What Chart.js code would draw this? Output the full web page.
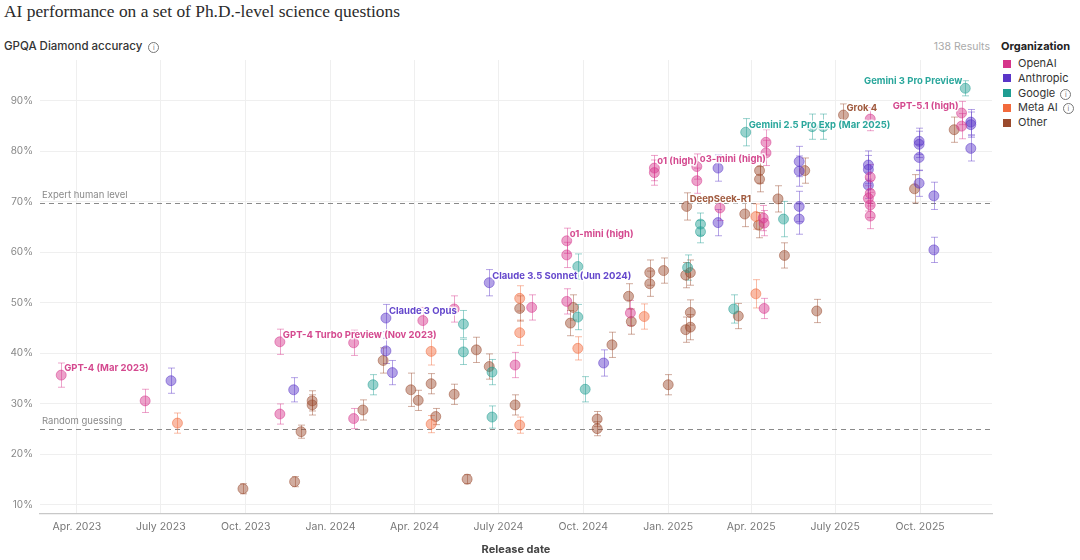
<!DOCTYPE html>
<html>
<head>
<meta charset="utf-8">
<script src="https://cdn.jsdelivr.net/npm/chart.js@4.4.1/dist/chart.umd.min.js"></script>
<style>
  body { margin: 0; width: 1080px; height: 560px; background: #fff; position: relative; overflow: hidden; font-family: Inter, 'Noto Sans', sans-serif; }
  #chart { position: absolute; left: 0; top: 0; }
  .title { position: absolute; left: 4px; top: 1px; font-family: 'Liberation Serif', 'DejaVu Serif', serif; font-size: 17.4px; color: #2b2b2b; white-space: nowrap; }
  .subtitle { position: absolute; left: 4px; top: 39px; font-size: 11.5px; font-weight: 500; color: #333; white-space: nowrap; }
  .info { display: inline-block; width: 9px; height: 9px; border: 1px solid #777; border-radius: 50%; font-size: 7px; line-height: 9px; text-align: center; color: #777; vertical-align: 0px; margin-left: 6px; font-weight: 400; }
  .results { position: absolute; right: 90px; top: 40px; font-size: 10.5px; color: #aaa; }
  .legend { position: absolute; left: 1001px; top: 39px; font-size: 11px; color: #333; }
  .legend h4 { margin: 0 0 3px 0; font-size: 11px; font-weight: 700; color: #222; }
  .legend .item { height: 14.75px; line-height: 14.75px; white-space: nowrap; }
  .legend .sw { display: inline-block; width: 8px; height: 8px; margin: 0 7px 0 2px; vertical-align: -0.5px; }
</style>
</head>
<body>
<div class="title">AI performance on a set of Ph.D.-level science questions</div>
<div class="subtitle">GPQA Diamond accuracy<span class="info">i</span></div>
<div class="results">138 Results</div>
<div class="legend" id="legend"><h4>Organization</h4></div>
<canvas id="chart" width="1080" height="560"></canvas>
<script>
// organizations and colours
const orgs = ['OpenAI', 'Anthropic', 'Google', 'Meta AI', 'Other'];
const orgColors = ['#d6358b', '#5a35c8', '#1f9d92', '#f26a3c', '#9a4a2d'];
const orgTextColors = ['#d4498f', '#6447cc', '#2aa79c', '#e0703f', '#a05a3e'];
const orgInfo = [false, false, true, true, false];

// OpenAI
const openaiDates = ['2023-03-15', '2023-06-14', '2023-11-07', '2023-11-07', '2024-01-26', '2024-01-26', '2024-04-10', '2024-05-14',
  '2024-07-19', '2024-08-06', '2024-09-13', '2024-09-13', '2024-09-13', '2024-11-21', '2024-12-17', '2024-12-17',
  '2025-02-01', '2025-02-01', '2025-02-26', '2025-04-17', '2025-04-17', '2025-04-14', '2025-04-15', '2025-04-15',
  '2025-08-08', '2025-08-08', '2025-08-08', '2025-08-06', '2025-08-08', '2025-08-08', '2025-11-15', '2025-11-15'];
const openaiScores = [35.7, 30.6, 42.3, 28.0, 42.1, 27.1, 46.5, 48.8,
  37.7, 49.1, 62.3, 59.5, 50.3, 48.0, 76.7, 75.8,
  77.0, 74.2, 68.8, 81.8, 79.7, 66.8, 65.8, 48.9,
  86.4, 74.9, 71.7, 70.7, 69.4, 67.2, 87.6, 85.0];
const openaiErr = [2.4, 2.3, 2.5, 2.0, 2.5, 2.0, 2.6, 2.6,
  2.5, 2.5, 2.5, 2.5, 2.5, 2.5, 2.5, 2.5,
  2.5, 2.5, 2.5, 2.5, 2.5, 2.5, 2.5, 2.0,
  2.3, 2.5, 2.5, 2.5, 2.5, 2.5, 2.3, 2.5];

// Anthropic
const anthropicDates = ['2023-07-12', '2023-11-22', '2024-03-01', '2024-03-01', '2024-03-08', '2024-06-21', '2024-10-23', '2025-02-24',
  '2025-02-24', '2025-05-23', '2025-05-23', '2025-05-23', '2025-05-23', '2025-08-06', '2025-08-06', '2025-08-06',
  '2025-09-30', '2025-09-30', '2025-09-30', '2025-09-30', '2025-10-16', '2025-10-16', '2025-11-25', '2025-11-25', '2025-11-25'];
const anthropicScores = [34.6, 32.8, 47.0, 40.5, 36.2, 54.0, 38.1, 76.7,
  65.9, 78.0, 76.1, 69.1, 66.6, 77.3, 76.4, 73.3,
  82.0, 81.4, 78.8, 73.7, 71.2, 60.5, 85.8, 85.3, 80.6];
const anthropicErr = [2.5, 2.4, 2.7, 2.5, 2.4, 2.6, 2.6, 2.6,
  2.6, 3.0, 3.0, 3.0, 3.0, 2.8, 2.8, 2.6,
  2.6, 2.6, 2.6, 2.6, 2.7, 2.5, 2.5, 2.5, 2.5];

// Google
const googleDates = ['2024-02-16', '2024-05-24', '2024-05-24', '2024-06-24', '2024-06-24', '2024-09-25', '2024-09-25', '2024-10-03',
  '2025-01-22', '2025-02-05', '2025-02-05', '2025-03-13', '2025-03-26', '2025-05-06', '2025-06-06', '2025-06-18', '2025-11-19'];
const googleScores = [33.8, 45.8, 40.3, 36.3, 27.4, 57.2, 47.2, 32.9,
  57.0, 65.6, 64.1, 48.8, 83.8, 66.6, 84.9, 84.9, 92.5];
const googleErr = [2.0, 2.7, 2.5, 2.5, 2.2, 2.5, 2.5, 2.5,
  2.5, 2.2, 2.2, 2.8, 2.7, 3.5, 2.5, 2.5, 1.5];

// Meta AI
const metaDates = ['2023-07-19', '2024-04-19', '2024-04-19', '2024-07-24', '2024-07-24', '2024-07-24', '2024-09-25', '2024-12-06',
  '2025-04-06', '2025-04-06'];
const metaScores = [26.2, 40.4, 26.0, 50.9, 44.1, 25.8, 41.0, 47.3, 67.1, 51.8];
const metaErr = [2.0, 2.7, 1.7, 2.5, 2.5, 1.6, 2.3, 2.5, 2.5, 2.8];

// Other
const otherDates = ['2023-09-28', '2023-11-23', '2023-11-30', '2023-12-12', '2023-12-12', '2024-02-05', '2024-02-27', '2024-03-28',
  '2024-04-05', '2024-04-19', '2024-04-24', '2024-05-14', '2024-05-28', '2024-06-07', '2024-06-21', '2024-07-19',
  '2024-07-24', '2024-09-20', '2024-09-17', '2024-10-16', '2024-10-16', '2024-11-01', '2024-11-19', '2024-11-22',
  '2024-12-12', '2024-12-12', '2024-12-27', '2025-01-01', '2025-01-20', '2025-01-25', '2025-01-25', '2025-01-20',
  '2025-01-25', '2025-01-21', '2025-03-18', '2025-03-25', '2025-04-10', '2025-04-10', '2025-04-09', '2025-04-30',
  '2025-05-07', '2025-05-29', '2025-06-11', '2025-07-10', '2025-09-25', '2025-11-07'];
const otherScores = [13.2, 14.6, 24.5, 30.6, 29.8, 28.8, 38.6, 32.8,
  30.7, 34.0, 27.5, 31.9, 15.1, 40.7, 37.4, 29.8,
  48.9, 49.1, 46.0, 27.0, 25.1, 41.7, 51.3, 46.3,
  56.0, 53.8, 56.4, 33.8, 55.5, 56.0, 48.1, 44.7,
  45.2, 69.1, 47.4, 67.6, 76.2, 74.5, 65.4, 70.6,
  59.4, 76.2, 48.4, 87.2, 72.6, 84.3];
const otherErr = [1.0, 1.0, 1.3, 2.0, 2.0, 2.0, 2.5, 3.3,
  2.0, 2.0, 1.6, 2.0, 0.9, 2.5, 2.5, 2.0,
  2.5, 2.5, 2.5, 1.5, 1.4, 2.5, 2.5, 2.5,
  2.5, 2.5, 2.5, 2.0, 2.5, 2.5, 2.5, 2.5,
  2.5, 2.7, 2.5, 2.5, 2.5, 2.5, 2.5, 2.6,
  2.5, 2.5, 2.3, 2.2, 2.8, 2.5];

// named models
const labelTexts = ['GPT-4 (Mar 2023)', 'GPT-4 Turbo Preview (Nov 2023)', 'Claude 3 Opus', 'Claude 3.5 Sonnet (Jun 2024)',
  'o1-mini (high)', 'o1 (high)', 'o3-mini (high)', 'DeepSeek-R1', 'Gemini 2.5 Pro Exp (Mar 2025)', 'Grok 4',
  'Gemini 3 Pro Preview', 'GPT-5.1 (high)'];
const labelOrgs = ['OpenAI', 'OpenAI', 'Anthropic', 'Anthropic', 'OpenAI', 'OpenAI', 'OpenAI', 'Other', 'Google', 'Other', 'Google', 'OpenAI'];
const labelDates = ['2023-03-15', '2023-11-07', '2024-03-01', '2024-06-21', '2024-09-13', '2024-12-17', '2025-02-01', '2025-01-21',
  '2025-03-26', '2025-07-10', '2025-11-19', '2025-11-15'];
const labelScores = [35.7, 42.3, 47.0, 54.0, 62.3, 76.7, 77.0, 69.1, 83.8, 87.2, 92.5, 87.6];
const labelSides = ['right', 'right', 'right', 'right', 'right', 'right', 'right', 'right', 'right', 'right', 'left', 'left'];

// reference lines
const refValues = [69.7, 25];
const refLabels = ['Expert human level', 'Random guessing'];

// axes
const tickDates = ['2023-04-01', '2023-07-01', '2023-10-01', '2024-01-01', '2024-04-01', '2024-07-01',
  '2024-10-01', '2025-01-01', '2025-04-01', '2025-07-01', '2025-10-01'];
const tickLabels = ['Apr. 2023', 'July 2023', 'Oct. 2023', 'Jan. 2024', 'Apr. 2024', 'July 2024',
  'Oct. 2024', 'Jan. 2025', 'Apr. 2025', 'July 2025', 'Oct. 2025'];
const yTicks = [10, 20, 30, 40, 50, 60, 70, 80, 90];

const day = s => Date.UTC(+s.slice(0, 4), +s.slice(5, 7) - 1, +s.slice(8, 10)) / 86400000;

function rgba(hex, a) {
  const n = parseInt(hex.slice(1), 16);
  return `rgba(${n >> 16},${(n >> 8) & 255},${n & 255},${a})`;
}

function points(dates, scores, errs) {
  return dates.map((d, i) => ({ x: day(d), y: scores[i], err: errs[i] }));
}

const series = [
  points(openaiDates, openaiScores, openaiErr),
  points(anthropicDates, anthropicScores, anthropicErr),
  points(googleDates, googleScores, googleErr),
  points(metaDates, metaScores, metaErr),
  points(otherDates, otherScores, otherErr)
];

// html legend
const legend = document.getElementById('legend');
orgs.forEach((o, i) => {
  const row = document.createElement('div');
  row.className = 'item';
  row.innerHTML = `<span class="sw" style="background:${orgColors[i]}"></span>${o}` +
    (orgInfo[i] ? '<span class="info" style="margin-left:5px">i</span>' : '');
  legend.appendChild(row);
});

const refLines = {
  id: 'refLines',
  beforeDatasetsDraw(chart) {
    const { ctx, chartArea, scales } = chart;
    ctx.save();
    refValues.forEach((v, i) => {
      const y = Math.round(scales.y.getPixelForValue(v)) + 0.5;
      ctx.strokeStyle = '#8a8a8a';
      ctx.lineWidth = 1.2;
      ctx.setLineDash([5, 4]);
      ctx.beginPath();
      ctx.moveTo(chartArea.left, y);
      ctx.lineTo(chartArea.right, y);
      ctx.stroke();
      ctx.setLineDash([]);
      ctx.fillStyle = '#8a8a8a';
      ctx.font = '9.5px Inter';
      ctx.textBaseline = 'middle';
      ctx.fillText(refLabels[i], chartArea.left + 2, y - 8);
    });
    ctx.restore();
  }
};

const errorBars = {
  id: 'errorBars',
  beforeDatasetsDraw(chart) {
    const { ctx, scales } = chart;
    chart.data.datasets.forEach((ds, k) => {
      ctx.save();
      ctx.strokeStyle = rgba(orgColors[k], 0.45);
      ctx.lineWidth = 1;
      ds.data.forEach(p => {
        const x = Math.round(scales.x.getPixelForValue(p.x)) + 0.5;
        const y1 = scales.y.getPixelForValue(p.y + p.err);
        const y2 = scales.y.getPixelForValue(p.y - p.err);
        ctx.beginPath();
        ctx.moveTo(x, y1); ctx.lineTo(x, y2);
        ctx.moveTo(x - 3.5, y1); ctx.lineTo(x + 3.5, y1);
        ctx.moveTo(x - 3.5, y2); ctx.lineTo(x + 3.5, y2);
        ctx.stroke();
      });
      ctx.restore();
    });
  }
};

const pointLabels = {
  id: 'pointLabels',
  afterDatasetsDraw(chart) {
    const { ctx, scales } = chart;
    ctx.save();
    ctx.font = 'bold 9.5px Inter';
    ctx.textBaseline = 'middle';
    ctx.lineJoin = 'round';
    labelTexts.forEach((t, i) => {
      const k = orgs.indexOf(labelOrgs[i]);
      const x = scales.x.getPixelForValue(day(labelDates[i]));
      const y = scales.y.getPixelForValue(labelScores[i]) - 7;
      const right = labelSides[i] === 'right';
      ctx.textAlign = right ? 'left' : 'right';
      const tx = right ? x + 3 : x - 3;
      ctx.strokeStyle = 'rgba(255,255,255,0.85)';
      ctx.lineWidth = 3;
      ctx.strokeText(t, tx, y);
      ctx.fillStyle = orgTextColors[k];
      ctx.fillText(t, tx, y);
    });
    ctx.restore();
  }
};

new Chart(document.getElementById('chart'), {
  type: 'scatter',
  data: {
    datasets: series.map((data, k) => ({
      label: orgs[k],
      data: data,
      pointRadius: 5,
      pointBorderWidth: 1,
      backgroundColor: rgba(orgColors[k], 0.46),
      borderColor: rgba(orgColors[k], 0.5)
    }))
  },
  options: {
    responsive: false,
    animation: false,
    devicePixelRatio: 1,
    layout: { padding: { left: 0, right: 88, top: 60, bottom: 0 } },
    plugins: { legend: { display: false }, tooltip: { enabled: false } },
    scales: {
      x: {
        type: 'linear',
        min: day('2023-02-20'),
        max: day('2025-12-18'),
        afterBuildTicks: s => { s.ticks = tickDates.map(d => ({ value: day(d) })); },
        afterFit: s => { s.height = 46; },
        ticks: {
          callback: (v, i) => tickLabels[i],
          color: '#777',
          font: { family: 'Inter', size: 10.5 },
          padding: 7,
          maxRotation: 0
        },
        grid: { color: '#efefef', drawTicks: false },
        border: { display: true, color: '#c8c8c8', width: 1.2 },
        title: {
          display: true,
          text: 'Release date',
          color: '#444',
          font: { family: 'Inter', size: 11, weight: 'bold' },
          padding: { top: 0, bottom: 4 }
        }
      },
      y: {
        min: 8.2,
        max: 98.1,
        afterBuildTicks: s => { s.ticks = yTicks.map(v => ({ value: v })); },
        afterFit: s => { s.width = 40; },
        ticks: {
          callback: v => v + '%',
          color: '#888',
          font: { family: 'Inter', size: 10 },
          padding: 7
        },
        grid: { color: '#efefef', drawTicks: false },
        border: { display: false }
      }
    }
  },
  plugins: [refLines, errorBars, pointLabels]
});
</script>
</body>
</html>
